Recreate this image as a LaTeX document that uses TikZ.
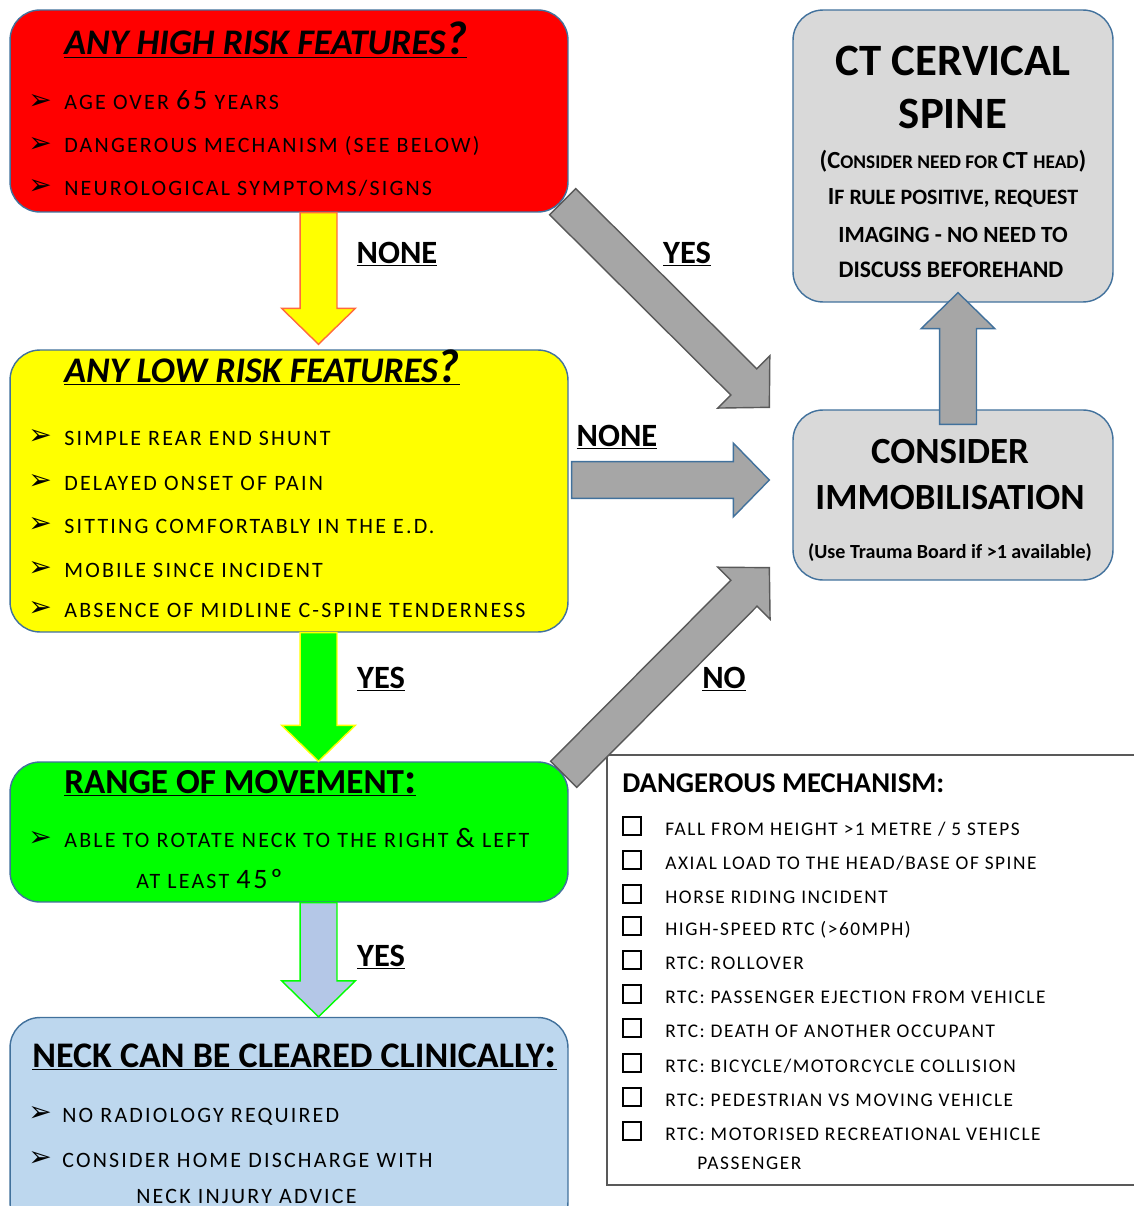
\documentclass[tikz,border=0pt]{standalone}
\usepackage{fontspec}
\setmainfont{Carlito}
\newfontfamily\spaced[LetterSpace=10]{Carlito}
\newfontfamily\mechfont[LetterSpace=8]{Carlito}
\newfontfamily\dingfont{DejaVu Sans}
\usetikzlibrary{calc}

\definecolor{riskred}{HTML}{FF0000}
\definecolor{riskyellow}{HTML}{FFFF00}
\definecolor{riskgreen}{HTML}{00FF00}
\definecolor{clearblue}{HTML}{BDD7EE}
\definecolor{boxgray}{HTML}{D9D9D9}
\definecolor{arrowgray}{HTML}{A6A6A6}
\definecolor{arrowblue}{HTML}{B4C7E7}
\definecolor{edgeblue}{HTML}{41719C}
\definecolor{darkedge}{HTML}{595959}
\definecolor{orangeedge}{HTML}{FF6A3D}

\tikzstyle{box} = [draw=edgeblue, line width=0.8pt, rounded corners=0.6cm, inner sep=0pt]
\tikzstyle{title} = [anchor=base west, inner sep=0pt, font=\bfseries\itshape\fontsize{20.5}{24}\selectfont]
\tikzstyle{bullet} = [anchor=base west, inner sep=0pt, font=\spaced\fontsize{12.5}{15}\selectfont]
\tikzstyle{tick} = [anchor=west, inner sep=0pt, font=\dingfont\fontsize{16}{18}\selectfont]
\tikzstyle{item} = [anchor=base west, inner sep=0pt, font=\mechfont\fontsize{11}{13}\selectfont]
\tikzstyle{checkbox} = [draw, line width=0.7pt, minimum size=0.36cm, inner sep=0pt]
\tikzstyle{lbl} = [anchor=base, inner sep=0pt, font=\bfseries\fontsize{18.5}{21}\selectfont]
\tikzstyle{bigtext} = [inner sep=0pt, align=center]
\tikzstyle{bigarrow} = [line width=0.8pt, line join=miter]

\newcommand{\bigq}{{\fontsize{27}{29}\selectfont ?}}
\newcommand{\bigarrow}[3][]{%
  \draw[bigarrow,#1] let \p1=($(#3)-(#2)$), \n1={atan2(\y1,\x1)}, \n2={veclen(\x1,\y1)} in
    ($(#2)+(\n1+90:10.5pt)$) -- ($(#2)+(\n1:\n2-20.5pt)+(\n1+90:10.5pt)$)
    -- ($(#2)+(\n1:\n2-20.5pt)+(\n1+90:21pt)$) -- (#3)
    -- ($(#2)+(\n1:\n2-20.5pt)+(\n1-90:21pt)$) -- ($(#2)+(\n1:\n2-20.5pt)+(\n1-90:10.5pt)$)
    -- ($(#2)+(\n1-90:10.5pt)$) -- cycle;}

\begin{document}
\begin{tikzpicture}[x=0.02cm, y=-0.02cm]
\useasboundingbox (0,0) rectangle (1133,1206);
\fill[white] (0,0) rectangle (1133,1206);

% boxes
\node[box, fill=riskred, minimum width=11.16cm, minimum height=4.04cm] (high) at (289,111) {};
\node[box, fill=boxgray, minimum width=6.4cm, minimum height=5.84cm] (ct) at (953,156) {};
\node[box, fill=riskyellow, minimum width=11.16cm, minimum height=5.64cm] (low) at (289,491) {};
\node[box, fill=boxgray, minimum width=6.4cm, minimum height=3.4cm] (immob) at (953,495) {};
\node[box, fill=riskgreen, minimum width=11.16cm, minimum height=2.8cm] (rom) at (289,832) {};
\node[box, fill=clearblue, minimum width=11.16cm, minimum height=4.3cm] (clear) at (289,1125) {};
\node[draw=darkedge, line width=1.2pt, minimum width=10.7cm, minimum height=8.6cm, inner sep=0pt] (mech) at (874,970) {};

% high risk
\node[title] (hightitle) at (64,55) {\underline{ANY HIGH RISK FEATURES\bigq}};
\foreach \txt/\yy [count=\i] in {{AGE OVER {\fontsize{16}{17}\selectfont 65} YEARS}/110, {DANGEROUS MECHANISM (SEE BELOW)}/153, {NEUROLOGICAL SYMPTOMS/SIGNS}/195}
{
  \node[tick] (hb\i) at (28,\yy-8) {➢};
  \node[bullet] (ht\i) at (64,\yy) {\txt};
}

% low risk
\node[title] (lowtitle) at (64,382) {\underline{ANY LOW RISK FEATURES\bigq}};
\foreach \txt/\yy [count=\i] in {{SIMPLE REAR END SHUNT}/445, {DELAYED ONSET OF PAIN}/490, {SITTING COMFORTABLY IN THE E.D.}/533, {MOBILE SINCE INCIDENT}/577, {ABSENCE OF MIDLINE C-SPINE TENDERNESS}/617}
{
  \node[tick] (lb\i) at (28,\yy-8) {➢};
  \node[bullet] (lt\i) at (64,\yy) {\txt};
}

% range of movement
\node[title, font=\bfseries\fontsize{20}{24}\selectfont] (romtitle) at (64,793) {\underline{RANGE OF MOVEMENT{\fontsize{25}{27}\selectfont :}}};
\node[tick] (rb1) at (28,839) {➢};
\node[bullet] (rt1) at (64,847) {ABLE TO ROTATE NECK TO THE RIGHT {\fontsize{16}{17}\selectfont\&} LEFT};
\node[bullet] (rt2) at (136,888) {AT LEAST {\fontsize{16}{17}\selectfont 45º}};

% cleared
\node[title, font=\bfseries\fontsize{20.5}{24}\selectfont] (cleartitle) at (32,1067) {\underline{NECK CAN BE CLEARED CLINICALLY{\fontsize{25}{27}\selectfont :}}};
\node[tick] (cb1) at (28,1114) {➢};
\node[bullet] (ct1) at (62,1122) {NO RADIOLOGY REQUIRED};
\node[tick] (cb2) at (28,1159) {➢};
\node[bullet] (ct2) at (62,1167) {CONSIDER HOME DISCHARGE WITH};
\node[bullet] (ct3) at (136,1203) {NECK INJURY ADVICE};

% ct
\node[bigtext, font=\bfseries\fontsize{25.5}{30}\selectfont] (cttitle) at (953,61) {CT CERVICAL};
\node[bigtext, font=\bfseries\fontsize{25.5}{30}\selectfont] (ctspine) at (953,114) {SPINE};
\node[bigtext, font=\bfseries\fontsize{14}{16}\selectfont] (ctl1) at (953,161) {(C{\fontsize{11}{13}\selectfont ONSIDER NEED FOR }CT {\fontsize{11}{13}\selectfont HEAD})};
\node[bigtext, font=\bfseries\fontsize{14}{16}\selectfont] (ctl2) at (953,198) {I{\fontsize{12.5}{14}\selectfont F RULE POSITIVE, REQUEST}};
\node[bigtext, font=\bfseries\fontsize{13.2}{16}\selectfont] (ctl3) at (953,235) {IMAGING - NO NEED TO};
\node[bigtext, font=\bfseries\fontsize{13.5}{16}\selectfont] (ctl4) at (951,270) {DISCUSS BEFOREHAND};

% immobilisation
\node[bigtext, font=\bfseries\fontsize{21}{25}\selectfont] (imtitle) at (950,452) {CONSIDER};
\node[bigtext, font=\bfseries\fontsize{21}{25}\selectfont] (imtitle2) at (950,498) {IMMOBILISATION};
\node[bigtext, font=\bfseries\fontsize{11.4}{13}\selectfont] (imnote) at (950,553) {(Use Trauma Board if >1 available)};

% dangerous mechanism
\node[anchor=base west, inner sep=0pt, font=\bfseries\fontsize{16.3}{19}\selectfont] (mechtitle) at (622,792) {DANGEROUS MECHANISM:};
\foreach \txt/\yy [count=\i] in {{FALL FROM HEIGHT >1 METRE / 5 STEPS}/835, {AXIAL LOAD TO THE HEAD/BASE OF SPINE}/869, {HORSE RIDING INCIDENT}/903, {HIGH-SPEED RTC (>60MPH)}/935, {RTC: ROLLOVER}/969, {RTC: PASSENGER EJECTION FROM VEHICLE}/1003, {RTC: DEATH OF ANOTHER OCCUPANT}/1037, {RTC: BICYCLE/MOTORCYCLE COLLISION}/1072, {RTC: PEDESTRIAN VS MOVING VEHICLE}/1106, {RTC: MOTORISED RECREATIONAL VEHICLE}/1140}
{
  \node[checkbox] (chk\i) at (632,\yy-9) {};
  \node[item] (item\i) at (665,\yy) {\txt};
}
\node[item] (item11) at (697,1169) {PASSENGER};

% arrows
\coordinate (highout) at ($(high.south)+(29.5,0)$);
\coordinate (lowin) at ($(low.north)+(29.5,-5)$);
\coordinate (lowout) at ($(low.south)+(29.5,0)$);
\coordinate (romin) at ($(rom.north)+(29.5,0)$);
\coordinate (romout) at ($(rom.south)+(29.5,0)$);
\coordinate (clearin) at ($(clear.north)+(29.5,0)$);
\coordinate (yesfrom) at ($(high.south east)+(-6,-11)$);
\coordinate (yesto) at ($(immob.north west)+(-23,-2)$);
\coordinate (nonefrom) at ($(low.east)+(3,-11)$);
\coordinate (noneto) at ($(immob.west)+(-23,-15)$);
\coordinate (nofrom) at ($(rom.north east)+(-5,13)$);
\coordinate (noto) at ($(immob.south west)+(-23,-13)$);
\coordinate (upfrom) at ($(immob.north)+(5,15)$);
\coordinate (upto) at ($(ct.south)+(5,-10)$);

\bigarrow[fill=riskyellow, draw=orangeedge]{highout}{lowin}
\bigarrow[fill=riskgreen, draw=riskyellow]{lowout}{romin}
\bigarrow[fill=arrowblue, draw=riskgreen]{romout}{clearin}
\bigarrow[fill=arrowgray, draw=darkedge]{yesfrom}{yesto}
\bigarrow[fill=arrowgray, draw=edgeblue]{nonefrom}{noneto}
\bigarrow[fill=arrowgray, draw=darkedge]{nofrom}{noto}
\bigarrow[fill=arrowgray, draw=edgeblue]{upfrom}{upto}

% labels
\node[lbl] (lblnone) at (397,263) {\underline{NONE}};
\node[lbl] (lblyes) at (687,263) {\underline{YES}};
\node[lbl] (lblnone2) at (617,446) {\underline{NONE}};
\node[lbl] (lblyes2) at (381,688) {\underline{YES}};
\node[lbl] (lblno) at (724,688) {\underline{NO}};
\node[lbl] (lblyes3) at (381,966) {\underline{YES}};
\end{tikzpicture}
\end{document}
